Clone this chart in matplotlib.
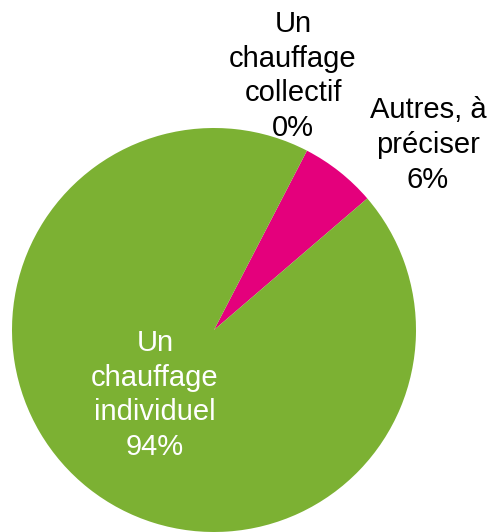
import matplotlib.pyplot as plt

categories = ["Un chauffage collectif", "Autres, à préciser", "Un chauffage individuel"]
values = [0.0, 6.1, 93.9]
pct_labels = ["0%", "6%", "94%"]
colors = ["#4F81BD", "#E4007C", "#7CB133"]

plt.rcParams['font.family'] = ['Liberation Sans', 'DejaVu Sans']

fig = plt.figure(figsize=(4.89, 5.32), dpi=100)
ax = fig.add_axes([0, 0, 1, 1])

ax.pie(values, colors=colors, startangle=62.6, counterclock=False,
       center=(214, 202), radius=202, wedgeprops={'linewidth': 0})
ax.set_xlim(0, 489)
ax.set_ylim(0, 532)
ax.set_aspect('equal')
ax.axis('off')

# label text: break category names the way the chart does
label_texts = [
    "Un\nchauffage\ncollectif\n" + pct_labels[0],
    "Autres, à\npréciser\n" + pct_labels[1],
    "Un\nchauffage\nindividuel\n" + pct_labels[2],
]
label_pos = [(293, 456), (428, 387), (155, 137)]
label_colors = ["black", "black", "white"]
for txt, (x, y), c in zip(label_texts, label_pos, label_colors):
    ax.text(x, y, txt, ha='center', va='center', fontsize=21, color=c,
            linespacing=1.3)

fig.savefig("out.png", dpi=100)
